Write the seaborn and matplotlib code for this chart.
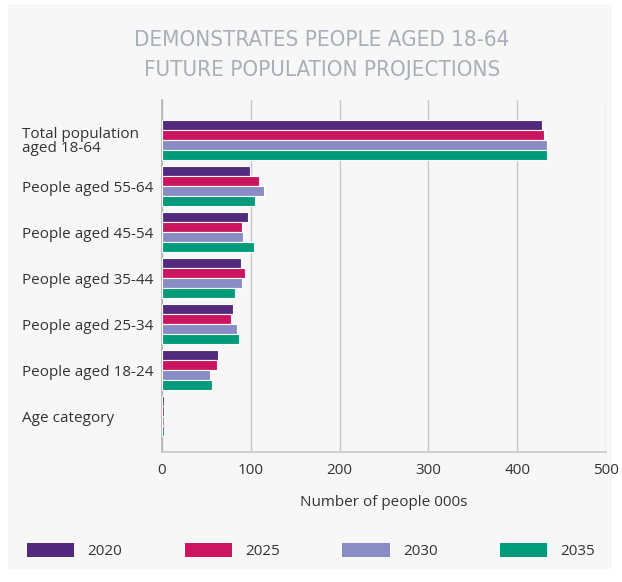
import matplotlib
matplotlib.use("Agg")
import matplotlib.pyplot as plt
import seaborn as sns
import pandas as pd
from matplotlib.patches import Rectangle, Patch

categories = ["Total population\naged 18-64", "People aged 55-64", "People aged 45-54",
              "People aged 35-44", "People aged 25-34", "People aged 18-24", "Age category"]
years = ["2020", "2025", "2030", "2035"]
v2020 = [428, 99, 97, 89, 80, 63, 2]
v2025 = [430, 109, 90, 93, 78, 62, 2]
v2030 = [433, 115, 91, 90, 84, 54, 2]
v2035 = [434, 105, 104, 82, 87, 56, 2]
colors = ["#512a7e", "#cc1460", "#8a8cc4", "#009b7b"]

rows = []
for y, vals in zip(years, [v2020, v2025, v2030, v2035]):
    for c, v in zip(categories, vals):
        rows.append({"category": c, "year": y, "value": v})
df = pd.DataFrame(rows)

sns.set_theme(style="white")
plt.rcParams['font.family'] = ['Open Sans', 'DejaVu Sans']
BG = "#f7f7f7"
W, H = 622, 582
fig = plt.figure(figsize=(W/100, H/100), dpi=100, facecolor="white")
fig.patches.append(Rectangle((8/W, 1-569/H), (612-8)/W, (569-4)/H, transform=fig.transFigure,
                             facecolor=BG, edgecolor="none", zorder=-10))
ax = fig.add_axes([162/W, 1-452/H, (606-162)/W, (452-100)/H])
ax.set_facecolor(BG)

sns.barplot(data=df, y="category", x="value", hue="year", orient="h",
            palette=colors, saturation=1, width=0.88, edgecolor="white", linewidth=0.8,
            ax=ax, legend=False, zorder=3)

ax.set_xlim(0, 500)
ax.set_ylim(6.78, -0.87)
ax.set_xticks([0, 100, 200, 300, 400, 500])
ax.xaxis.grid(True, color="#c9c9c9", linewidth=1, zorder=0)
ax.yaxis.grid(False)
for s in ["top", "right"]:
    ax.spines[s].set_visible(False)
ax.spines["left"].set_color("#b5b5b5")
ax.spines["bottom"].set_color("#c9c9c9")
ax.tick_params(axis="x", length=0, pad=8, labelsize=11, labelcolor="#333333")
ax.tick_params(axis="y", length=0, labelsize=11, labelcolor="#333333")
ax.set_ylabel("")
ax.set_xlabel("Number of people 000s", fontsize=11, color="#333333", labelpad=12)
for lbl in ax.get_yticklabels():
    lbl.set_horizontalalignment("left")
    lbl.set_linespacing(0.95)
ax.yaxis.set_tick_params(pad=(162-22)*0.72)

title_kw = dict(ha="center", va="center", fontsize=16, color="#a9afb6",
                family="DejaVu Sans", fontstretch="condensed")
fig.text(322/W, 1-40/H, "DEMONSTRATES PEOPLE AGED 18-64", **title_kw)
fig.text(322/W, 1-70/H, "FUTURE POPULATION PROJECTIONS", **title_kw)

handles = [Patch(facecolor=c, edgecolor="none") for c in colors]
fig.legend(handles, years, loc="center left", bbox_to_anchor=(27/W, 1-551/H), ncol=4,
           frameon=False, fontsize=11, handlelength=3.1, handleheight=1.1, borderpad=0,
           borderaxespad=0, columnspacing=4.1, handletextpad=0.85, labelcolor="#333333")

fig.savefig("out.png", dpi=100, facecolor="white")
